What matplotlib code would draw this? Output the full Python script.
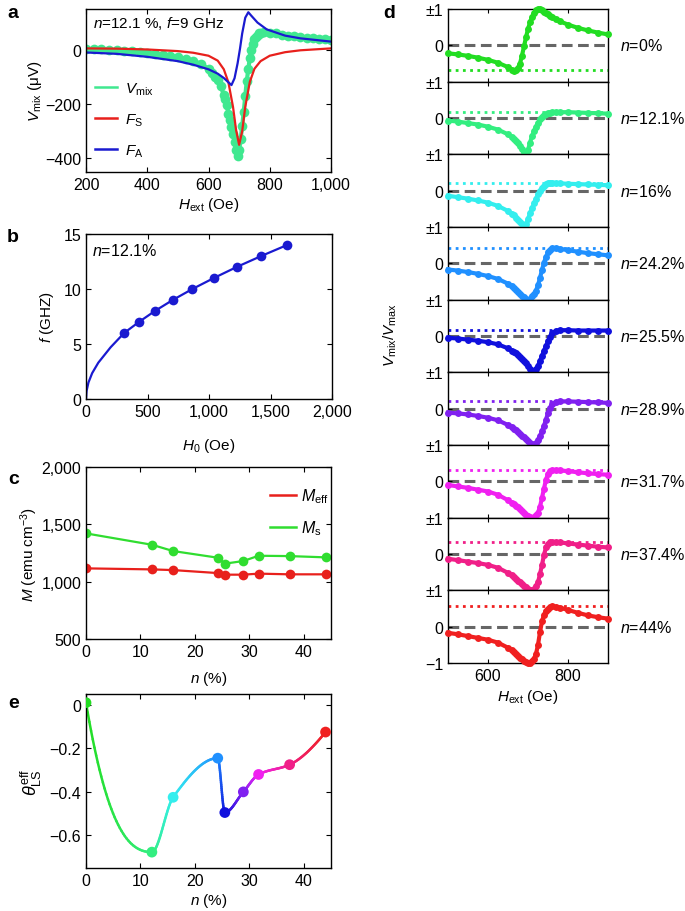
import numpy as np
import matplotlib
matplotlib.use('Agg')
import matplotlib.pyplot as plt
from matplotlib.collections import LineCollection
from matplotlib.colors import to_rgb
from matplotlib.lines import Line2D
from matplotlib.ticker import FuncFormatter

# ---------------- data ----------------
# panel a
vmix_H = [200, 225, 250, 275, 300, 325, 350, 375, 400, 425, 450, 475, 500, 525, 550, 575, 600,
          610, 620, 630, 640, 650, 655, 660, 665, 670, 675, 680, 685, 690, 695, 700, 705, 710,
          715, 720, 725, 730, 735, 740, 745, 750, 755, 760, 765, 770, 780, 800, 820, 840, 860,
          880, 900, 920, 940, 960, 980, 1000]
vmix_V = [3, 2, 1, 0, -2, -4, -6, -8, -11, -14, -18, -22, -27, -33, -40, -52, -70,
          -86, -100, -113, -135, -165, -183, -205, -235, -260, -285, -310, -340, -370, -390, -370, -330, -280,
          -230, -170, -115, -70, -30, 0, 22, 38, 48, 55, 60, 63, 65, 63, 60, 56, 52,
          49, 46, 44, 42, 40, 38, 36]
fs_H = [200, 300, 400, 500, 550, 600, 630, 650, 665, 680, 690, 700, 710, 720, 735, 750, 770, 800, 850, 900, 1000]
fs_V = [5, 4, 1, -5, -11, -22, -40, -72, -120, -210, -295, -350, -300, -210, -118, -70, -42, -22, -9, -2, 5]
fa_H = [200, 300, 400, 500, 550, 600, 630, 650, 665, 675, 685, 695, 703, 710, 720, 730, 740, 760, 790, 850, 900, 1000]
fa_V = [-10, -15, -26, -42, -55, -72, -88, -104, -120, -130, -105, -50, 5, 60, 118, 138, 125, 100, 75, 52, 42, 30]

# panel b
b_H0 = [310, 430, 560, 705, 865, 1040, 1225, 1425, 1635]
b_f = [6, 7, 8, 9, 10, 11, 12, 13, 14]
bfit_H0 = [0, 5, 20, 50, 100, 200, 310, 430, 560, 705, 865, 1040, 1225, 1425, 1635]
bfit_f = [0, 0.75, 1.5, 2.35, 3.3, 4.7, 6, 7, 8, 9, 10, 11, 12, 13, 14]

# panels c / e
n_pct = [0, 12.1, 16, 24.2, 25.5, 28.9, 31.7, 37.4, 44]
M_eff = [1116, 1107, 1101, 1075, 1061, 1061, 1070, 1064, 1064]
M_s = [1421, 1322, 1267, 1209, 1157, 1180, 1226, 1223, 1212]
theta = [0.01, -0.677, -0.425, -0.245, -0.495, -0.40, -0.32, -0.275, -0.125]
n_colors = ['#22dd22', '#33ee80', '#33eeee', '#2090ff', '#1010dd', '#8020f0', '#f020f0', '#f01f88', '#f02020']

# panel d
d_H = [500, 525, 550, 575, 600, 625, 650,
       660, 665, 670, 675, 680, 685, 690, 695, 700, 705, 710, 715, 720, 725, 730, 735, 740, 745, 750, 755, 760,
       770, 780, 800, 825, 850, 875, 900]
d_V00 = [-0.22, -0.25, -0.29, -0.34, -0.40, -0.48, -0.60,
         -0.67, -0.70, -0.69, -0.63, -0.50, -0.28, -0.03, 0.22, 0.45, 0.63, 0.78, 0.88, 0.96, 1.0, 0.99, 0.96, 0.93, 0.89, 0.86, 0.82, 0.78,
         0.72, 0.66, 0.57, 0.48, 0.41, 0.35, 0.30]
d_V12 = [-0.07, -0.10, -0.14, -0.18, -0.24, -0.32, -0.45,
         -0.53, -0.58, -0.64, -0.70, -0.78, -0.86, -0.94, -1.0, -0.88, -0.68, -0.50, -0.36, -0.24, -0.13, -0.04, 0.03, 0.08, 0.11, 0.13, 0.15, 0.16,
         0.16, 0.16, 0.16, 0.15, 0.14, 0.13, 0.12]
d_V16 = [-0.14, -0.18, -0.22, -0.27, -0.33, -0.42, -0.56,
         -0.63, -0.68, -0.74, -0.80, -0.87, -0.93, -1.0, -0.92, -0.78, -0.62, -0.48, -0.35, -0.22, -0.10, 0.00, 0.07, 0.13, 0.18, 0.21, 0.22, 0.22,
         0.21, 0.20, 0.19, 0.18, 0.17, 0.16, 0.15]
d_V24 = [-0.17, -0.20, -0.24, -0.29, -0.35, -0.43, -0.56,
         -0.63, -0.68, -0.73, -0.78, -0.84, -0.89, -0.94, -0.98, -1.0, -0.97, -0.90, -0.84, -0.75, -0.60, -0.40, -0.18, 0.02, 0.18, 0.30, 0.37, 0.41,
         0.42, 0.40, 0.36, 0.32, 0.28, 0.25, 0.22]
d_V25 = [-0.05, -0.07, -0.10, -0.13, -0.17, -0.23, -0.34,
         -0.40, -0.44, -0.48, -0.53, -0.58, -0.63, -0.69, -0.75, -0.82, -0.90, -0.97, -1.0, -0.92, -0.82, -0.68, -0.55, -0.40, -0.28, -0.14, -0.02, 0.07,
         0.14, 0.16, 0.16, 0.15, 0.15, 0.15, 0.15]
d_V28 = [-0.11, -0.13, -0.16, -0.20, -0.25, -0.32, -0.45,
         -0.51, -0.55, -0.59, -0.64, -0.69, -0.74, -0.79, -0.84, -0.89, -0.94, -0.97, -1.0, -0.95, -0.86, -0.75, -0.62, -0.47, -0.30, -0.12, 0.02, 0.12,
         0.18, 0.20, 0.20, 0.19, 0.18, 0.17, 0.16]
d_V31 = [-0.10, -0.14, -0.18, -0.23, -0.28, -0.37, -0.52,
         -0.59, -0.63, -0.67, -0.72, -0.77, -0.82, -0.87, -0.92, -0.96, -0.99, -1.0, -0.98, -0.93, -0.86, -0.70, -0.45, -0.20, 0.05, 0.20, 0.28, 0.31,
         0.31, 0.30, 0.28, 0.25, 0.22, 0.20, 0.18]
d_V37 = [-0.13, -0.17, -0.21, -0.25, -0.30, -0.38, -0.52,
         -0.59, -0.64, -0.68, -0.73, -0.78, -0.83, -0.88, -0.92, -0.96, -0.99, -1.0, -0.96, -0.88, -0.78, -0.55, -0.30, -0.02, 0.18, 0.28, 0.32, 0.33,
         0.33, 0.32, 0.29, 0.26, 0.23, 0.20, 0.18]
d_V44 = [-0.17, -0.21, -0.26, -0.31, -0.36, -0.44, -0.58,
         -0.65, -0.70, -0.75, -0.80, -0.85, -0.90, -0.94, -0.97, -0.99, -1.0, -0.95, -0.88, -0.75, -0.50, -0.15, 0.15, 0.32, 0.44, 0.50, 0.54, 0.56,
         0.55, 0.52, 0.46, 0.38, 0.31, 0.26, 0.22]
d_curves = [d_V00, d_V12, d_V16, d_V24, d_V25, d_V28, d_V31, d_V37, d_V44]
d_dotted = [-0.69, 0.16, 0.22, 0.42, 0.17, 0.20, 0.31, 0.33, 0.56]
d_labels = ['0%', '12.1%', '16%', '24.2%', '25.5%', '28.9%', '31.7%', '37.4%', '44%']

# ---------------- style ----------------
plt.rcParams['font.family'] = ['Liberation Sans', 'DejaVu Sans']
plt.rcParams['mathtext.fontset'] = 'custom'
plt.rcParams['mathtext.rm'] = 'Liberation Sans'
plt.rcParams['mathtext.it'] = 'Liberation Sans:italic'
plt.rcParams['mathtext.bf'] = 'Liberation Sans:bold'
plt.rcParams['font.size'] = 11
plt.rcParams['xtick.labelsize'] = 11.5
plt.rcParams['ytick.labelsize'] = 11.5
plt.rcParams['axes.labelsize'] = 11
plt.rcParams['xtick.direction'] = 'in'
plt.rcParams['ytick.direction'] = 'in'
plt.rcParams['xtick.top'] = True
plt.rcParams['ytick.right'] = True
plt.rcParams['xtick.major.size'] = 3.5
plt.rcParams['ytick.major.size'] = 3.5
plt.rcParams['axes.linewidth'] = 1.0

W, H = 685.0, 912.0
def rect(l, t, r, b):
    return [l / W, 1 - b / H, (r - l) / W, (b - t) / H]

comma = FuncFormatter(lambda v, p: f'{int(round(v)):,}'.replace('-', '\u2212'))

fig = plt.figure(figsize=(6.85, 9.12), dpi=100)

# ---------------- panel a ----------------
axa = fig.add_axes(rect(86, 10, 331, 173))
c_vmix = '#40e890'
c_red = '#e8201c'
c_blue = '#1a1ad0'
axa.plot(vmix_H, vmix_V, '-o', color=c_vmix, lw=3, ms=7, mec='none')
axa.plot(fs_H, fs_V, '-', color=c_red, lw=1.6)
axa.plot(fa_H, fa_V, '-', color=c_blue, lw=1.6)
axa.set_xlim(200, 1000)
axa.set_ylim(-450, 150)
axa.set_xticks([200, 400, 600, 800, 1000])
axa.set_yticks([-400, -200, 0])
axa.xaxis.set_major_formatter(comma)
axa.yaxis.set_major_formatter(comma)
axa.set_xlabel('$H_{\\rm ext}$ (Oe)', labelpad=2)
axa.set_ylabel('$V_{\\rm mix}$ (\u03bcV)', labelpad=1)
axa.text(0.03, 0.915, '$n$=12.1 %, $f$=9 GHz', transform=axa.transAxes, fontsize=11, va='center')
hands = [Line2D([], [], color=c_vmix, lw=1.8), Line2D([], [], color=c_red, lw=1.8), Line2D([], [], color=c_blue, lw=1.8)]
axa.legend(hands, ['$V_{\\rm mix}$', '$F_{\\rm S}$', '$F_{\\rm A}$'], loc='upper left',
           bbox_to_anchor=(0.035, 0.56), frameon=False, borderpad=0, borderaxespad=0,
           handlelength=1.5, handletextpad=0.5, labelspacing=0.95, fontsize=11)
fig.text(7 / W, 1 - 13 / H, 'a', fontsize=14, fontweight='bold', va='center')

# ---------------- panel b ----------------
axb = fig.add_axes(rect(86, 235, 332, 400))
axb.plot(bfit_H0, bfit_f, '-', color=c_blue, lw=1.6)
axb.plot(b_H0, b_f, 'o', color=c_blue, ms=7, mec='none')
axb.set_xlim(0, 2000)
axb.set_ylim(0, 15)
axb.set_xticks([0, 500, 1000, 1500, 2000])
axb.set_yticks([0, 5, 10, 15])
axb.xaxis.set_major_formatter(comma)
axb.set_xlabel('$H_0$ (Oe)', labelpad=12)
axb.set_ylabel('$f$ (GHZ)', labelpad=5)
axb.text(0.025, 0.9, '$n$=12.1%', transform=axb.transAxes, fontsize=11.5, va='center')
fig.text(7 / W, 1 - 238 / H, 'b', fontsize=14, fontweight='bold', va='center')

# ---------------- panel c ----------------
axc = fig.add_axes(rect(86, 468, 331, 640))
c_green = '#30dd30'
axc.plot(n_pct, M_eff, '-o', color=c_red, lw=1.6, ms=7, mec='none')
axc.plot(n_pct, M_s, '-o', color=c_green, lw=1.6, ms=7, mec='none')
axc.set_xlim(0, 45)
axc.set_ylim(500, 2000)
axc.set_xticks([0, 10, 20, 30, 40])
axc.set_yticks([500, 1000, 1500, 2000])
axc.yaxis.set_major_formatter(comma)
axc.set_xlabel('$n$ (%)', labelpad=7)
axc.set_ylabel('$M$ (emu cm$^{-3}$)', labelpad=1)
hc = [Line2D([], [], color=c_red, lw=1.8), Line2D([], [], color=c_green, lw=1.8)]
axc.legend(hc, ['$M_{\\rm eff}$', '$M_{\\rm s}$'], loc='upper right', bbox_to_anchor=(0.99, 0.885),
           frameon=False, borderpad=0, borderaxespad=0, handlelength=1.6, handletextpad=0.3,
           labelspacing=0.8, fontsize=11.5)
fig.text(8 / W, 1 - 480 / H, 'c', fontsize=14, fontweight='bold', va='center')

# ---------------- panel e ----------------
def pchip(x, y, xs):
    x = np.asarray(x, float); y = np.asarray(y, float)
    h = np.diff(x); dl = np.diff(y) / h
    n = len(x); d = np.zeros(n)
    for k in range(1, n - 1):
        if dl[k - 1] * dl[k] > 0:
            w1 = 2 * h[k] + h[k - 1]; w2 = h[k] + 2 * h[k - 1]
            d[k] = (w1 + w2) / (w1 / dl[k - 1] + w2 / dl[k])
    def endslope(h0, h1, d0, d1):
        m = ((2 * h0 + h1) * d0 - h0 * d1) / (h0 + h1)
        if np.sign(m) != np.sign(d0):
            m = 0.0
        elif np.sign(d0) != np.sign(d1) and abs(m) > abs(3 * d0):
            m = 3 * d0
        return m
    d[0] = endslope(h[0], h[1], dl[0], dl[1])
    d[-1] = endslope(h[-1], h[-2], dl[-1], dl[-2])
    out = []
    for k in range(n - 1):
        t = (xs[k] - x[k]) / h[k]
        h00 = 2 * t**3 - 3 * t**2 + 1; h10 = t**3 - 2 * t**2 + t
        h01 = -2 * t**3 + 3 * t**2; h11 = t**3 - t**2
        out.append(h00 * y[k] + h10 * h[k] * d[k] + h01 * y[k + 1] + h11 * h[k] * d[k + 1])
    return out

axe = fig.add_axes(rect(86, 695, 331, 869))
segx = [np.linspace(n_pct[k], n_pct[k + 1], 40) for k in range(len(n_pct) - 1)]
segy = pchip(n_pct, theta, segx)
for k in range(len(n_pct) - 1):
    xs, ys = segx[k], segy[k]
    pts = np.column_stack([xs, ys]).reshape(-1, 1, 2)
    segs = np.concatenate([pts[:-1], pts[1:]], axis=1)
    c0 = np.array(to_rgb(n_colors[k])); c1 = np.array(to_rgb(n_colors[k + 1]))
    fr = np.linspace(0, 1, len(segs))[:, None]
    cols = c0 * (1 - fr) + c1 * fr
    axe.add_collection(LineCollection(segs, colors=cols, linewidths=1.8, capstyle='round'))
axe.scatter(n_pct, theta, s=60, c=n_colors, zorder=3, edgecolors='none')
axe.set_xlim(0, 45)
axe.set_ylim(-0.75, 0.05)
axe.set_xticks([0, 10, 20, 30, 40])
axe.set_yticks([-0.6, -0.4, -0.2, 0])
axe.yaxis.set_major_formatter(FuncFormatter(lambda v, p: '0' if abs(v) < 1e-9 else f'{v:.1f}'.replace('-', '\u2212')))
axe.set_xlabel('$n$ (%)', labelpad=2)
axe.set_ylabel('$\\theta_{\\rm LS}^{\\rm eff}$', labelpad=4, fontsize=13)
fig.text(8 / W, 1 - 703 / H, 'e', fontsize=14, fontweight='bold', va='center')

# ---------------- panel d ----------------
top, bot = 10.0, 664.0
step = (bot - top) / 9
axes_d = []
for i in range(9):
    t = top + i * step
    ax = fig.add_axes(rect(448, t, 608, t + step))
    col = n_colors[i]
    ax.axhline(0, color='#666666', lw=2.2, dashes=(3.5, 1.8), zorder=1)
    ax.axhline(d_dotted[i], color=col, lw=2.0, ls=(0, (1, 1.6)), zorder=1)
    ax.plot(d_H, d_curves[i], '-o', color=col, lw=3, ms=5, mec='none', zorder=3, clip_on=False)
    ax.set_xlim(500, 900)
    ax.set_ylim(-1, 1)
    ax.set_xticks([600, 800])
    ax.set_yticks([-1, 0, 1])
    ax.tick_params(axis='y', right=False, length=3)
    ax.tick_params(axis='x', length=3)
    if i < 8:
        ax.set_yticklabels(['', '0', '\u00b11'])
        ax.set_xticklabels([])
    else:
        ax.set_yticklabels(['\u22121', '0', '\u00b11'])
    ax.text(1.075, 0.5, '$n$=' + d_labels[i], transform=ax.transAxes, va='center', ha='left', fontsize=11.5)
    axes_d.append(ax)
axes_d[-1].set_xlabel('$H_{\\rm ext}$ (Oe)', labelpad=3)
fig.text(390 / W, 1 - 335 / H, '$V_{\\rm mix}$/$V_{\\rm max}$', rotation=90, va='center', ha='center', fontsize=11)
fig.text(383 / W, 1 - 13 / H, 'd', fontsize=14, fontweight='bold', va='center')

fig.savefig('out.png', dpi=100)
